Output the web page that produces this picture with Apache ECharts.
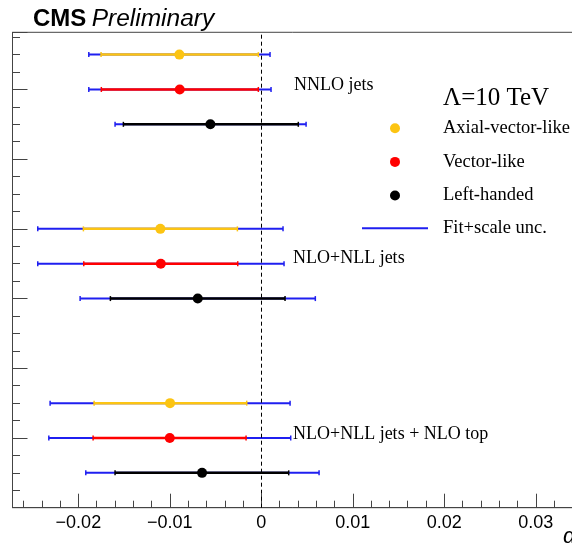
<!DOCTYPE html>
<html>
<head>
<meta charset="utf-8">
<script src="https://cdn.jsdelivr.net/npm/echarts@6/dist/echarts.min.js"></script>
<style>
html, body { margin: 0; padding: 0; background: #fff; }
#main { width: 572px; height: 550px; }
</style>
</head>
<body>
<div id="main"></div>
<script>
// 三组拟合: NNLO / NLO+NLL / NLO+NLL + NLO top
var groupNames = ['NNLO jets', 'NLO+NLL jets', 'NLO+NLL jets + NLO top'];
var modelNames = ['Axial-vector-like', 'Vector-like', 'Left-handed'];
var modelColors = ['#fcc412', '#ff0000', '#000000'];
// 每个模型在三组中的行位置 (y)
var rowPos = [[6.5, 4, 1.5], [6, 3.5, 1], [5.5, 3, 0.5]];
// 中心值
var central = [
    [-0.00896, -0.01104, -0.00998],
    [-0.00892, -0.01099, -0.01001],
    [-0.00557, -0.00695, -0.00648]
];
// 拟合误差
var statLo = [
    [-0.01752, -0.01945, -0.01828],
    [-0.01749, -0.01941, -0.01839],
    [-0.01508, -0.01650, -0.01599]
];
var statHi = [
    [-0.00033, -0.00262, -0.00160],
    [-0.00033, -0.00258, -0.00167],
    [0.00404, 0.00259, 0.00299]
];
// 拟合+尺度误差
var totLo = [
    [-0.01886, -0.02444, -0.02309],
    [-0.01886, -0.02444, -0.02323],
    [-0.01599, -0.01981, -0.01919]
];
var totHi = [
    [0.00095, 0.00237, 0.00314],
    [0.00106, 0.00248, 0.00321],
    [0.00489, 0.00590, 0.00631]
];
var totName = 'Fit+scale unc.';
var totColor = '#1f1ff0';

function barItem(color, width) {
    return function (params, api) {
        var y = api.value(2);
        var a = api.coord([api.value(0), y]);
        var b = api.coord([api.value(1), y]);
        var capStyle = { stroke: color, lineWidth: 1.5 };
        return {
            type: 'group',
            children: [
                { type: 'line', shape: { x1: a[0], y1: a[1], x2: b[0], y2: b[1] }, style: { stroke: color, lineWidth: width } },
                { type: 'line', shape: { x1: a[0], y1: a[1] - 2.5, x2: a[0], y2: a[1] + 2.5 }, style: capStyle },
                { type: 'line', shape: { x1: b[0], y1: b[1] - 2.5, x2: b[0], y2: b[1] + 2.5 }, style: capStyle }
            ]
        };
    };
}

var totData = [];
for (var m = 0; m < modelNames.length; m++) {
    for (var g = 0; g < groupNames.length; g++) {
        totData.push([totLo[m][g], totHi[m][g], rowPos[m][g]]);
    }
}

var series = [{
    name: totName,
    type: 'custom',
    renderItem: barItem(totColor, 2),
    itemStyle: { color: totColor },
    encode: { x: [0, 1], y: 2 },
    data: totData,
    z: 2,
    markLine: {
        silent: true,
        symbol: 'none',
        label: { show: false },
        lineStyle: { color: '#000', width: 1, type: [4, 3] },
        data: [{ xAxis: 0 }]
    }
}];

modelNames.forEach(function (name, m) {
    var statData = [];
    var pts = [];
    for (var g = 0; g < groupNames.length; g++) {
        statData.push([statLo[m][g], statHi[m][g], rowPos[m][g]]);
        pts.push([central[m][g], rowPos[m][g]]);
    }
    series.push({
        name: name + ' fit',
        type: 'custom',
        renderItem: barItem(modelColors[m], 2.5),
        encode: { x: [0, 1], y: 2 },
        data: statData,
        z: 3
    });
    series.push({
        name: name,
        type: 'scatter',
        symbol: 'circle',
        symbolSize: 10,
        itemStyle: { color: modelColors[m], opacity: 1 },
        data: pts,
        z: 4
    });
});

var legendText = { color: '#000', fontFamily: 'Liberation Serif', fontSize: 18.5, lineHeight: 20 };

var chart = echarts.init(document.getElementById('main'));
var option = {
    animation: false,
    grid: {
        show: true,
        outerBoundsMode: 'none',
        left: 12.5,
        right: -55.3,
        top: 32.3,
        bottom: 42.3,
        borderColor: '#444',
        borderWidth: 1
    },
    xAxis: {
        type: 'value',
        min: -0.0272,
        max: 0.04,
        minInterval: 0.01,
        maxInterval: 0.01,
        axisLine: { onZero: false, lineStyle: { color: '#444', width: 1 } },
        axisTick: { inside: true, length: 14, lineStyle: { color: '#444' } },
        minorTick: { show: true, splitNumber: 5, length: 7, lineStyle: { color: '#444' } },
        splitLine: { show: false },
        axisLabel: {
            showMinLabel: false,
            margin: 6,
            color: '#000',
            fontFamily: 'Liberation Sans',
            fontSize: 18,
            formatter: function (v) {
                if (Math.abs(v) < 1e-9) return '0';
                return (v < 0 ? '\u2212' : '') + Math.abs(v).toFixed(2);
            }
        }
    },
    yAxis: {
        type: 'value',
        min: 0,
        max: 6.82,
        minInterval: 1,
        maxInterval: 1,
        axisLine: { show: true, onZero: false, lineStyle: { color: '#444', width: 1 } },
        axisTick: { inside: true, length: 15, lineStyle: { color: '#444' } },
        minorTick: { show: true, splitNumber: 4, length: 7.5, lineStyle: { color: '#444' } },
        splitLine: { show: false },
        axisLabel: { show: false }
    },
    legend: [{
        selectedMode: false,
        orient: 'vertical',
        align: 'left',
        padding: 0,
        left: 390,
        top: 118.3,
        itemWidth: 10,
        itemHeight: 10,
        itemGap: 13.6,
        icon: 'circle',
        textStyle: echarts.util.extend({ padding: [0, 0, 0, 38] }, legendText),
        data: modelNames
    }, {
        selectedMode: false,
        padding: 0,
        left: 362,
        top: 218.3,
        itemWidth: 66,
        itemHeight: 2,
        icon: 'rect',
        textStyle: echarts.util.extend({ padding: [0, 0, 0, 10] }, legendText),
        data: [totName]
    }],
    graphic: [{
        type: 'text',
        left: 33,
        top: 7,
        style: {
            text: '{a|CMS} {b|Preliminary}',
            rich: {
                a: { fontFamily: 'Liberation Sans', fontWeight: 'bold', fontSize: 24, fill: '#000' },
                b: { fontFamily: 'Liberation Sans', fontStyle: 'italic', fontSize: 24.5, fill: '#000', padding: [0, 0, 0, 2] }
            }
        }
    }, {
        type: 'text', x: 294, y: 85,
        style: { text: groupNames[0], font: '18px "Liberation Serif"', fill: '#000', verticalAlign: 'middle' }
    }, {
        type: 'text', x: 293, y: 258,
        style: { text: groupNames[1], font: '18px "Liberation Serif"', fill: '#000', verticalAlign: 'middle' }
    }, {
        type: 'text', x: 293, y: 434,
        style: { text: groupNames[2], font: '18px "Liberation Serif"', fill: '#000', verticalAlign: 'middle' }
    }, {
        type: 'text', x: 443, y: 98,
        style: { text: '\u039b=10 TeV', font: '25px "Liberation Serif"', fill: '#000', verticalAlign: 'middle' }
    }, {
        type: 'text', x: 563, y: 537,
        style: { text: '\u03b1', font: 'italic 22px "Liberation Sans"', fill: '#000', verticalAlign: 'middle' }
    }],
    series: series
};
chart.setOption(option);
window.addEventListener('resize', function () {
    chart.resize();
});
</script>
</body>
</html>
